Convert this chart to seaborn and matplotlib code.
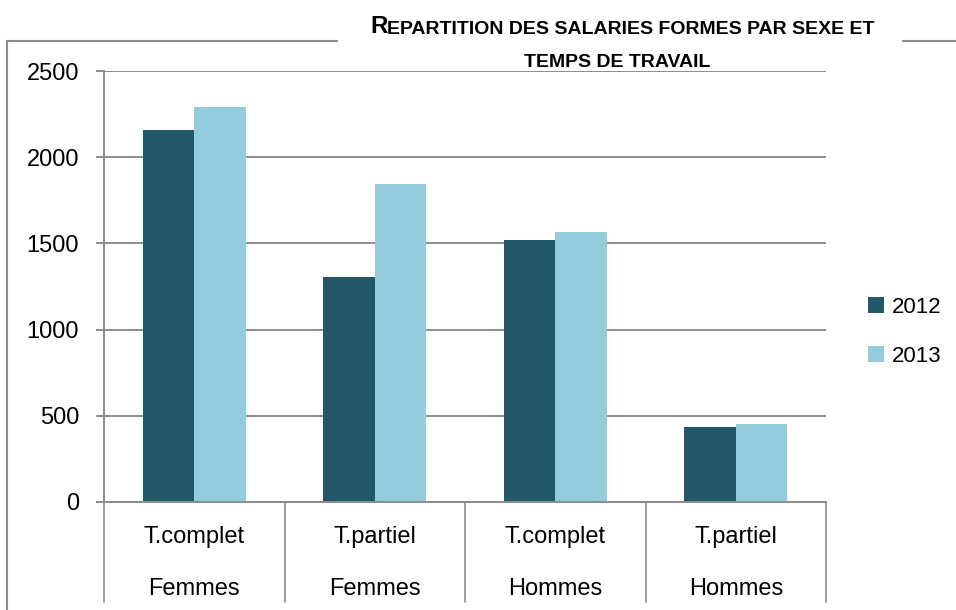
import matplotlib
matplotlib.use("Agg")
import matplotlib.pyplot as plt
from matplotlib.lines import Line2D
import seaborn as sns
import pandas as pd

# ---- data ----
inner_labels = ["T.complet", "T.partiel", "T.complet", "T.partiel"]
outer_labels = ["Femmes", "Femmes", "Hommes", "Hommes"]
years = ["2012", "2013"]
values_2012 = [2155, 1305, 1520, 437]
values_2013 = [2292, 1845, 1564, 453]
y_ticks = [0, 500, 1000, 1500, 2000, 2500]
colors = ["#215968", "#93CDDD"]
title_first = "R"
title_rest1 = "EPARTITION DES SALARIES FORMES PAR SEXE ET"
title_line2 = "TEMPS DE TRAVAIL"

sns.set_theme(style="white")
plt.rcParams["font.family"] = ["Liberation Sans", "DejaVu Sans"]

cats = [f"{a}\n{b}" for a, b in zip(inner_labels, outer_labels)]
df = pd.DataFrame({
    "cat": cats * 2,
    "year": [years[0]] * 4 + [years[1]] * 4,
    "value": values_2012 + values_2013,
})

W, H = 956, 610
fig = plt.figure(figsize=(W / 100, H / 100), dpi=100)
ax = fig.add_axes([104 / W, 1 - 502 / H, (826 - 104) / W, (502 - 71) / H])

sns.barplot(data=df, x="cat", y="value", hue="year", hue_order=years,
            palette=colors, saturation=1, width=0.572, linewidth=0,
            ax=ax, legend=True)

grid_c = "#8c8c8c"
ax.set_ylim(0, 2500)
ax.set_xlim(-0.5, len(cats) - 0.5)
ax.set_yticks(y_ticks)
ax.set_yticklabels([str(t) for t in y_ticks], fontsize=17, color="black")
ax.yaxis.grid(True, color=grid_c, linewidth=1.4)
ax.set_axisbelow(True)
ax.tick_params(axis="y", which="major", direction="out", length=6,
               width=1.4, color=grid_c, left=True, pad=12)
ax.set_xticks([])
ax.set_xlabel("")
ax.set_ylabel("")
for s in ["top", "right"]:
    ax.spines[s].set_visible(False)
ax.spines["left"].set_color(grid_c)
ax.spines["left"].set_linewidth(1.4)
ax.spines["bottom"].set_color(grid_c)
ax.spines["bottom"].set_linewidth(1.4)

# two-level category labels with separators
tr = ax.get_xaxis_transform()
axh = 502 - 71
for i in range(len(cats)):
    ax.text(i, -35 / axh, inner_labels[i], transform=tr, ha="center", va="center",
            fontsize=17, color="black")
    ax.text(i, -87 / axh, outer_labels[i], transform=tr, ha="center", va="center",
            fontsize=17, color="black")
for i in range(len(cats) + 1):
    ax.plot([i - 0.5, i - 0.5], [0, -100 / axh], transform=tr, color=grid_c,
            linewidth=1.2, clip_on=False)

# legend
leg = ax.legend(loc="center left", bbox_to_anchor=(1.046, 0.395), frameon=False,
                fontsize=16, handlelength=0.7, handleheight=0.7,
                labelspacing=1.28, handletextpad=0.35, borderaxespad=0)
for t in leg.get_texts():
    t.set_color("black")

# outer frame (title interrupts top border)
fc = "#8c8c8c"
fig.add_artist(Line2D([7 / W, 7 / W], [1 - 41 / H, 0], color=fc, linewidth=1.5))
fig.add_artist(Line2D([7 / W, 337 / W], [1 - 41 / H, 1 - 41 / H], color=fc, linewidth=1.5))
fig.add_artist(Line2D([903 / W, 1], [1 - 41 / H, 1 - 41 / H], color=fc, linewidth=1.5))

# title with small caps effect
t1 = fig.text(370 / W, 1 - 33 / H, title_first, fontsize=17.5, fontweight="bold",
              ha="left", va="baseline", color="black")
ax.annotate(title_rest1, xy=(1, 0), xycoords=t1, ha="left", va="bottom",
            fontsize=14, fontweight="bold", color="black",
            annotation_clip=False)
fig.text(617 / W, 1 - 67 / H, title_line2, fontsize=14, fontweight="bold",
         ha="center", va="baseline", color="black")

fig.savefig("out.png", dpi=100)
